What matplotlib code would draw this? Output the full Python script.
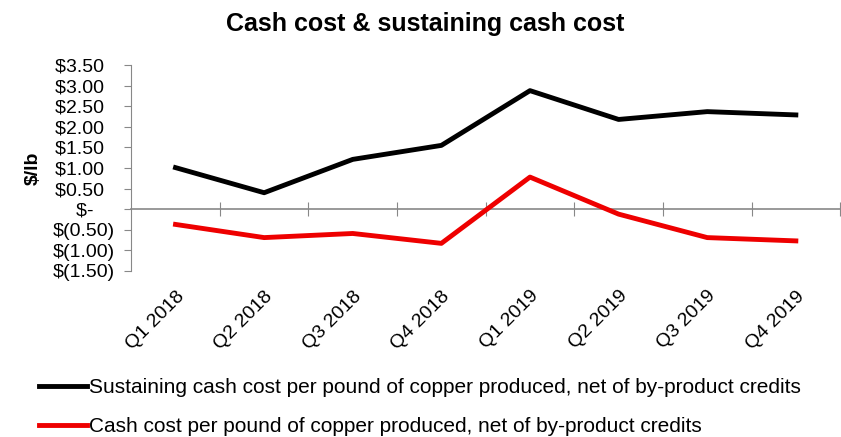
import matplotlib
matplotlib.use("Agg")
import matplotlib.pyplot as plt
import numpy as np

quarters = ["Q1 2018", "Q2 2018", "Q3 2018", "Q4 2018",
            "Q1 2019", "Q2 2019", "Q3 2019", "Q4 2019"]
sustaining = [1.01, 0.40, 1.21, 1.55, 2.88, 2.18, 2.37, 2.29]
cash_cost = [-0.37, -0.69, -0.59, -0.83, 0.78, -0.12, -0.69, -0.77]
yticks = [-1.5, -1.0, -0.5, 0.0, 0.5, 1.0, 1.5, 2.0, 2.5, 3.0, 3.5]
ytick_labels = ["$(1.50)", "$(1.00)", "$(0.50)", "$-    ", "$0.50  ", "$1.00  ",
                "$1.50  ", "$2.00  ", "$2.50  ", "$3.00  ", "$3.50  "]
labels = ["Sustaining cash cost per pound of copper produced, net of by-product credits",
          "Cash cost per pound of copper produced, net of by-product credits"]

plt.rcParams['font.family'] = ['Liberation Sans', 'DejaVu Sans']

fig = plt.figure(figsize=(8.41, 4.37), dpi=100)
ax = fig.add_axes([0.156, 0.380, 0.843, 0.471])

x = np.arange(len(quarters))
ax.plot(x, sustaining, color='black', lw=3.5, label=labels[0])
ax.plot(x, cash_cost, color='#ee0000', lw=3.5, label=labels[1])

ax.set_xlim(-0.5, len(quarters) - 0.5)
ax.set_ylim(-1.5, 3.5)
ax.set_yticks(yticks)
ax.set_yticklabels(ytick_labels, fontsize=14)
ax.tick_params(axis='y', direction='out', length=5, color='#888888', pad=6.5)

ax.set_xticks(x)
ax.set_xticklabels(quarters, rotation=45, ha='right', rotation_mode='anchor', fontsize=14)
ax.tick_params(axis='x', length=0, pad=12)

for s in ['top', 'right', 'bottom']:
    ax.spines[s].set_visible(False)
ax.spines['left'].set_color('#888888')

# zero line with category boundary ticks
zero_frac = 1.5 / 5.0
sec = ax.secondary_xaxis(zero_frac)
sec.set_xticks(np.arange(0.5, len(quarters) - 0.5 + 1e-9, 1.0))
sec.set_xticklabels([])
sec.tick_params(direction='inout', length=10, color='#888888')
sec.spines['bottom'].set_color('#888888')
sec.spines['bottom'].set_linewidth(1.2)

ax.set_ylabel("$/lb", fontsize=14, fontweight='bold', labelpad=8)

fig.suptitle("Cash cost & sustaining cash cost", fontsize=18, fontweight='bold',
             x=0.506, y=0.972)

fig.legend(loc='upper left', bbox_to_anchor=(0.046, 0.135), frameon=False,
           fontsize=15, handlelength=2.3, handletextpad=0.1, labelspacing=0.95,
           borderaxespad=0, borderpad=0)

fig.savefig("out.png", dpi=100)
